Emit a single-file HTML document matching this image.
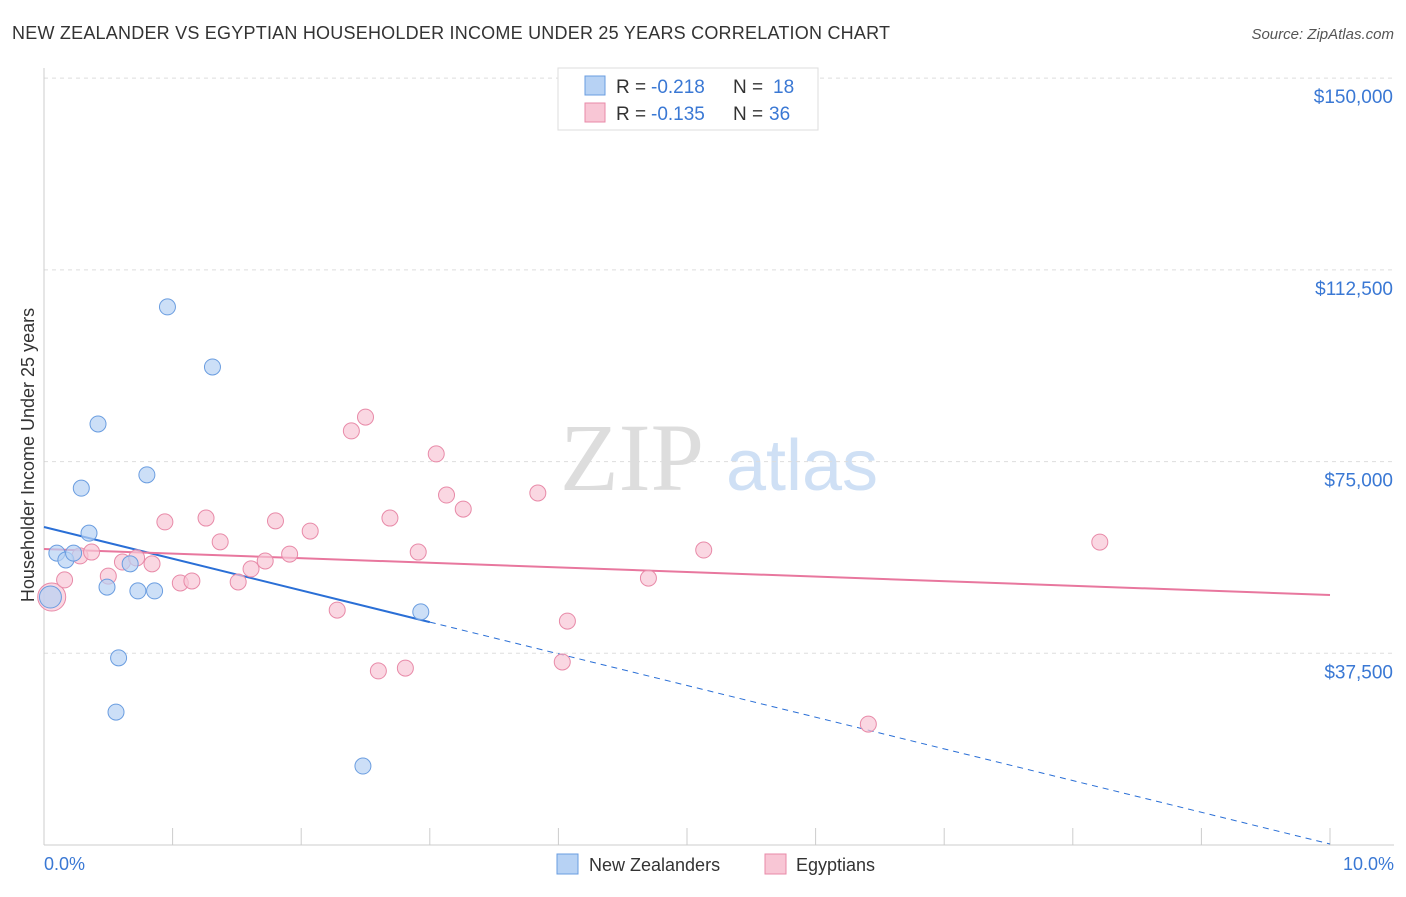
<!DOCTYPE html>
<html><head><meta charset="utf-8"><style>
body{margin:0;background:#fff;font-family:"Liberation Sans",sans-serif;}
</style></head><body>
<svg id="chart" width="1406" height="892" xmlns="http://www.w3.org/2000/svg">
<text x="12" y="39" font-size="18" fill="#333" textLength="878">NEW ZEALANDER VS EGYPTIAN HOUSEHOLDER INCOME UNDER 25 YEARS CORRELATION CHART</text>
<text x="1394" y="39" font-size="15" fill="#555" font-style="italic" text-anchor="end">Source: ZipAtlas.com</text>
<g>
<text x="632" y="490" font-size="96" fill="#ddd" font-family="Liberation Serif,serif" text-anchor="middle">ZIP</text>
<text x="802" y="490" font-size="72" fill="#cfe0f5" text-anchor="middle">atlas</text>
</g>
<g id="grid"></g>
<g id="axes"></g>
<g id="lines"></g>
<g id="points"></g>
<text transform="translate(34,455) rotate(-90)" font-size="18" fill="#333" text-anchor="middle">Householder Income Under 25 years</text>
<text x="44" y="870" font-size="18" fill="#3a78d4">0.0%</text>
<text x="1394" y="870" font-size="18" fill="#3a78d4" text-anchor="end">10.0%</text>
<g>
<rect x="558" y="68" width="260" height="62" fill="#fff" stroke="#ddd"/>
<rect x="585" y="76" width="20" height="19" fill="#b7d2f4" stroke="#6a9de0"/>
<rect x="585" y="103" width="20" height="19" fill="#f8c6d5" stroke="#e88aa8"/>
<text x="616" y="93" font-size="19" fill="#333">R =</text>
<text x="651" y="93" font-size="19" fill="#3a78d4">-0.218</text>
<text x="733" y="93" font-size="19" fill="#333">N =</text>
<text x="773" y="93" font-size="19" fill="#3a78d4">18</text>
<text x="616" y="120" font-size="19" fill="#333">R =</text>
<text x="651" y="120" font-size="19" fill="#3a78d4">-0.135</text>
<text x="733" y="120" font-size="19" fill="#333">N =</text>
<text x="769" y="120" font-size="19" fill="#3a78d4">36</text>
</g>
<g>
<rect x="557" y="854" width="21" height="20" fill="#b7d2f4" stroke="#6a9de0"/>
<text x="589" y="871" font-size="18" fill="#333">New Zealanders</text>
<rect x="765" y="854" width="21" height="20" fill="#f8c6d5" stroke="#e88aa8"/>
<text x="796" y="871" font-size="18" fill="#333">Egyptians</text>
</g>
</svg>
<script>
const yTicks=[37500,75000,112500,150000];
const yTickLabels=["$37,500","$75,000","$112,500","$150,000"];
const nzX=[0.05,0.10,0.17,0.23,0.29,0.35,0.42,0.49,0.58,0.56,0.67,0.73,0.80,0.86,0.96,1.31,2.48,2.93];
const nzY=[48500,57100,55750,57100,69800,61000,82350,50450,36600,26000,55000,49700,72400,49700,105250,93500,15450,45600];
const egX=[0.06,0.16,0.28,0.37,0.50,0.61,0.72,0.84,0.94,1.06,1.15,1.26,1.37,1.51,1.61,1.72,1.80,1.91,2.07,2.28,2.39,2.50,2.60,2.69,2.81,2.91,3.05,3.13,3.26,3.84,4.03,4.07,4.70,5.13,6.41,8.21];
const egY=[48500,51850,56550,57300,52600,55350,56150,55000,63200,51250,51650,63950,59300,51450,54000,55550,63400,56900,61400,45950,81000,83700,34050,63950,34600,57300,76500,68450,65700,68850,35800,43800,52200,57700,23650,59250];
const nzTrend=[62200,200];
const egTrend=[57900,48900];
const NS="http://www.w3.org/2000/svg";
const xs=v=>44+v*128.6;
const ys=v=>845-v/195.6;
function mk(tag,attrs,parent){const e=document.createElementNS(NS,tag);for(const k in attrs)e.setAttribute(k,attrs[k]);document.getElementById(parent).appendChild(e);return e;}
yTicks.forEach((t,i)=>{
 const g=mk('line',{x1:44,x2:1394,y1:ys(t),y2:ys(t),stroke:'#ddd','stroke-dasharray':'4,4'},'grid');
 
 
 const l=mk('text',{x:1393,y:ys(t)+25,'font-size':19,fill:'#3a78d4','text-anchor':'end'},'grid');
 l.textContent=yTickLabels[i];
 
 
});
const ax=mk('line',{x1:44,x2:44,y1:68,y2:845,stroke:'#ccc'},'axes');


const bx=mk('line',{x1:44,x2:1394,y1:845,y2:845,stroke:'#ccc'},'axes');


for(let i=1;i<=10;i++){const t=mk('line',{x1:xs(i),x2:xs(i),y1:828,y2:845,stroke:'#ccc'},'axes');
 
 }
const tr=(a,x)=>a[0]+(a[1]-a[0])*x/10;
let e=mk('line',{x1:xs(0),y1:ys(tr(nzTrend,0)),x2:xs(3),y2:ys(tr(nzTrend,3)),stroke:'#2a6fd6','stroke-width':2},'lines');


e=mk('line',{x1:xs(3),y1:ys(tr(nzTrend,3)),x2:xs(10),y2:ys(tr(nzTrend,10)),stroke:'#2a6fd6','stroke-width':1,'stroke-dasharray':'6,5'},'lines');


e=mk('line',{x1:xs(0),y1:ys(egTrend[0]),x2:xs(10),y2:ys(egTrend[1]),stroke:'#e8779e','stroke-width':2},'lines');


egX.forEach((x,i)=>{const c=mk('circle',{cx:xs(x),cy:ys(egY[i]),r:i==0?14:8,fill:'#f8c6d5','fill-opacity':0.7,stroke:'#e88aa8'},'points');
 
 });
nzX.forEach((x,i)=>{const c=mk('circle',{cx:xs(x),cy:ys(nzY[i]),r:i==0?11:8,fill:'#b7d2f4','fill-opacity':0.7,stroke:'#6a9de0'},'points');
 
 });
</script>
</body></html>
